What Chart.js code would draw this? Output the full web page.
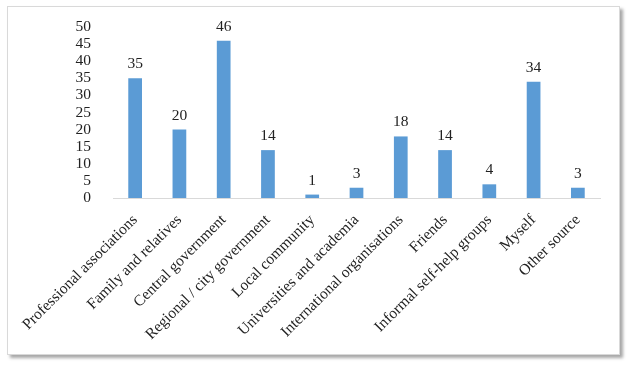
<!DOCTYPE html>
<html>
<head>
<meta charset="utf-8">
<script src="https://cdn.jsdelivr.net/npm/chart.js@4"></script>
<style>
  html, body { margin: 0; padding: 0; background: #fff; }
  #wrap { position: relative; width: 627px; height: 366px; }
  #frame {
    position: absolute; left: 7px; top: 6px; width: 611px; height: 347px;
    border: 1px solid #d9d9d9;
    box-shadow: 3px 3px 3px rgba(0, 0, 0, 0.35);
    background: #fff;
  }
  #chart { position: absolute; left: 0; top: 0; }
</style>
</head>
<body>
<div id="wrap">
  <div id="frame"></div>
  <canvas id="chart" width="627" height="366"></canvas>
</div>
<script>
// Sources of information
const categories = [
  'Professional associations', 'Family and relatives', 'Central government',
  'Regional / city government', 'Local community', 'Universities and academia',
  'International organisations', 'Friends', 'Informal self-help groups',
  'Myself', 'Other source'
];
const counts = [35, 20, 46, 14, 1, 3, 18, 14, 4, 34, 3];
const yTicks = [0, 5, 10, 15, 20, 25, 30, 35, 40, 45, 50];

const fontFamily = '"Liberation Serif", "Times New Roman", serif';
const textColor = '#222';
const fontSize = 15.5;

// Value labels above each bar
const barLabels = {
  id: 'barLabels',
  afterDatasetsDraw(chart) {
    const ctx = chart.ctx;
    const meta = chart.getDatasetMeta(0);
    ctx.save();
    ctx.font = fontSize + 'px ' + fontFamily;
    ctx.fillStyle = textColor;
    ctx.textAlign = 'center';
    ctx.textBaseline = 'alphabetic';
    meta.data.forEach((bar, i) => {
      ctx.fillText(String(counts[i]), bar.x, bar.y - 10);
    });
    ctx.restore();
  }
};

new Chart(document.getElementById('chart'), {
  type: 'bar',
  data: {
    labels: categories,
    datasets: [{
      data: counts,
      backgroundColor: '#5b9bd5',
      barPercentage: 0.62,
      categoryPercentage: 0.5
    }]
  },
  options: {
    responsive: false,
    animation: false,
    layout: { padding: { top: 27, right: 27, left: 0, bottom: 0 } },
    plugins: { legend: { display: false }, tooltip: { enabled: false } },
    scales: {
      x: {
        grid: { display: false },
        border: { display: true, color: '#d9d9d9', width: 1 },
        ticks: {
          maxRotation: 45, minRotation: 45, autoSkip: false, padding: 5,
          color: textColor, font: { family: fontFamily, size: fontSize }
        },
        afterFit(scale) { scale.height = 168; }
      },
      y: {
        min: 0, max: 50,
        grid: { display: false },
        border: { display: false },
        afterBuildTicks(scale) { scale.ticks = yTicks.map(v => ({ value: v })); },
        ticks: {
          autoSkip: false, padding: 14,
          color: textColor, font: { family: fontFamily, size: fontSize }
        },
        afterFit(scale) { scale.width = 113; }
      }
    }
  },
  plugins: [barLabels]
});
</script>
</body>
</html>
